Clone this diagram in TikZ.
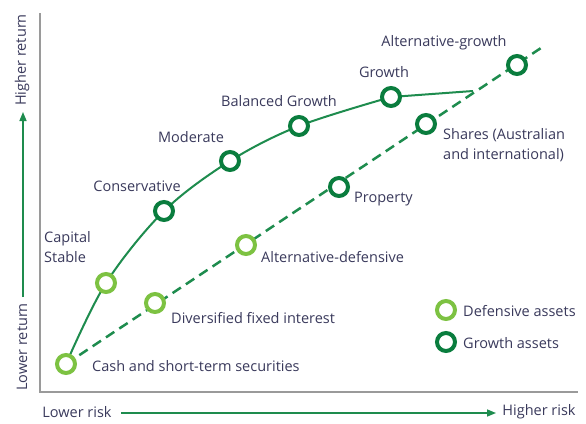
\documentclass[tikz,border=0pt]{standalone}
\usepackage{fontspec}
\setmainfont{Open Sans}
\usetikzlibrary{arrows.meta}
\definecolor{dkg}{HTML}{0A7D3E}
\definecolor{ltg}{HTML}{7DC242}
\definecolor{lnc}{HTML}{1E8C4E}
\definecolor{txt}{HTML}{3A3A5C}
\definecolor{axg}{HTML}{9A9A9A}
\begin{document}
\begin{tikzpicture}[x=1pt,y=-1pt,
  defring/.style={circle,draw=ltg,line width=4pt,fill=white,minimum size=18pt,inner sep=0pt},
  growring/.style={circle,draw=dkg,line width=4pt,fill=white,minimum size=18pt,inner sep=0pt},
  lbl/.style={text=txt,font=\fontsize{14.5}{20}\selectfont,inner sep=0pt},
  axisline/.style={draw=axg,line width=1.5pt},
  axisarrow/.style={draw=lnc,line width=1.5pt,-{Triangle[length=9pt,width=7pt]}},
  curveline/.style={draw=lnc,line width=2pt},
  dashline/.style={draw=lnc,line width=2.5pt,dash pattern=on 10pt off 6pt}
]
\useasboundingbox (0,0) rectangle (586,423);
\fill[white] (0,0) rectangle (586,423);
% axes
\coordinate (axtop) at (40,13);
\coordinate (axorig) at (40,392);
\coordinate (axright) at (578,392);
\draw[axisline] (axtop) -- (axorig) -- (axright);
% axis labels
\node[lbl,rotate=90] (hiret) at (22,60) {Higher return};
\node[lbl,rotate=90] (loret) at (22,347) {Lower return};
\node[lbl] (lorisk) at (77,412) {Lower risk};
\node[lbl] (hirisk) at (539,412) {Higher risk};
\coordinate (vfrom) at (23,297);
\coordinate (vto) at (23,112);
\coordinate (hfrom) at (121,413);
\coordinate (hto) at (496,413);
\draw[axisarrow] (vfrom) -- (vto);
\draw[axisarrow] (hfrom) -- (hto);
% key points
\coordinate (cash) at (66,364);
\coordinate (capst) at (106,283);
\coordinate (cons) at (164,211);
\coordinate (mod) at (230,161);
\coordinate (bal) at (299,126);
\coordinate (grow) at (391,97);
\coordinate (cend) at (473,91);
\coordinate (divf) at (155,303);
\coordinate (altd) at (246,245);
\coordinate (prop) at (339,187);
\coordinate (shar) at (426,124);
\coordinate (altg) at (517,65);
\coordinate (dend) at (544,46);
% lines
\draw[dashline] (cash) -- (dend);
\draw[curveline] plot[smooth,tension=0.55] coordinates {(cash) (capst) (cons) (mod) (bal) (grow)} -- (cend);
% rings
\node[defring] (ncash) at (cash) {};
\node[defring] (ncapst) at (capst) {};
\node[growring] (ncons) at (cons) {};
\node[growring] (nmod) at (mod) {};
\node[growring] (nbal) at (bal) {};
\node[growring] (ngrow) at (grow) {};
\node[defring] (ndivf) at (divf) {};
\node[defring] (naltd) at (altd) {};
\node[growring] (nprop) at (prop) {};
\node[growring] (nshar) at (shar) {};
\node[growring] (naltg) at (altg) {};
% labels
\node[lbl,anchor=west] (tcash) at (92,366) {Cash and short-term securities};
\node[lbl,anchor=west,align=left] (tcapst) at (44,247) {Capital\\Stable};
\node[lbl] (tcons) at (137,186) {Conservative};
\node[lbl] (tmod) at (191,137) {Moderate};
\node[lbl] (tbal) at (279,101) {Balanced Growth};
\node[lbl] (tgrow) at (384,72) {Growth};
\node[lbl] (taltg) at (444,43) {Alternative-growth};
\node[lbl,anchor=west] (tdivf) at (171,318) {Diversified fixed interest};
\node[lbl,anchor=west] (taltd) at (261,257) {Alternative-defensive};
\node[lbl,anchor=west] (tprop) at (354,199) {Property};
\node[lbl,anchor=west,align=left] (tshar) at (443,145) {Shares (Australian\\and international)};
% legend
\node[defring] (legd) at (446,310) {};
\node[growring] (legg) at (446,342) {};
\node[lbl,anchor=west] (tlegd) at (463,311) {Defensive assets};
\node[lbl,anchor=west] (tlegg) at (463,343) {Growth assets};
\end{tikzpicture}
\end{document}
